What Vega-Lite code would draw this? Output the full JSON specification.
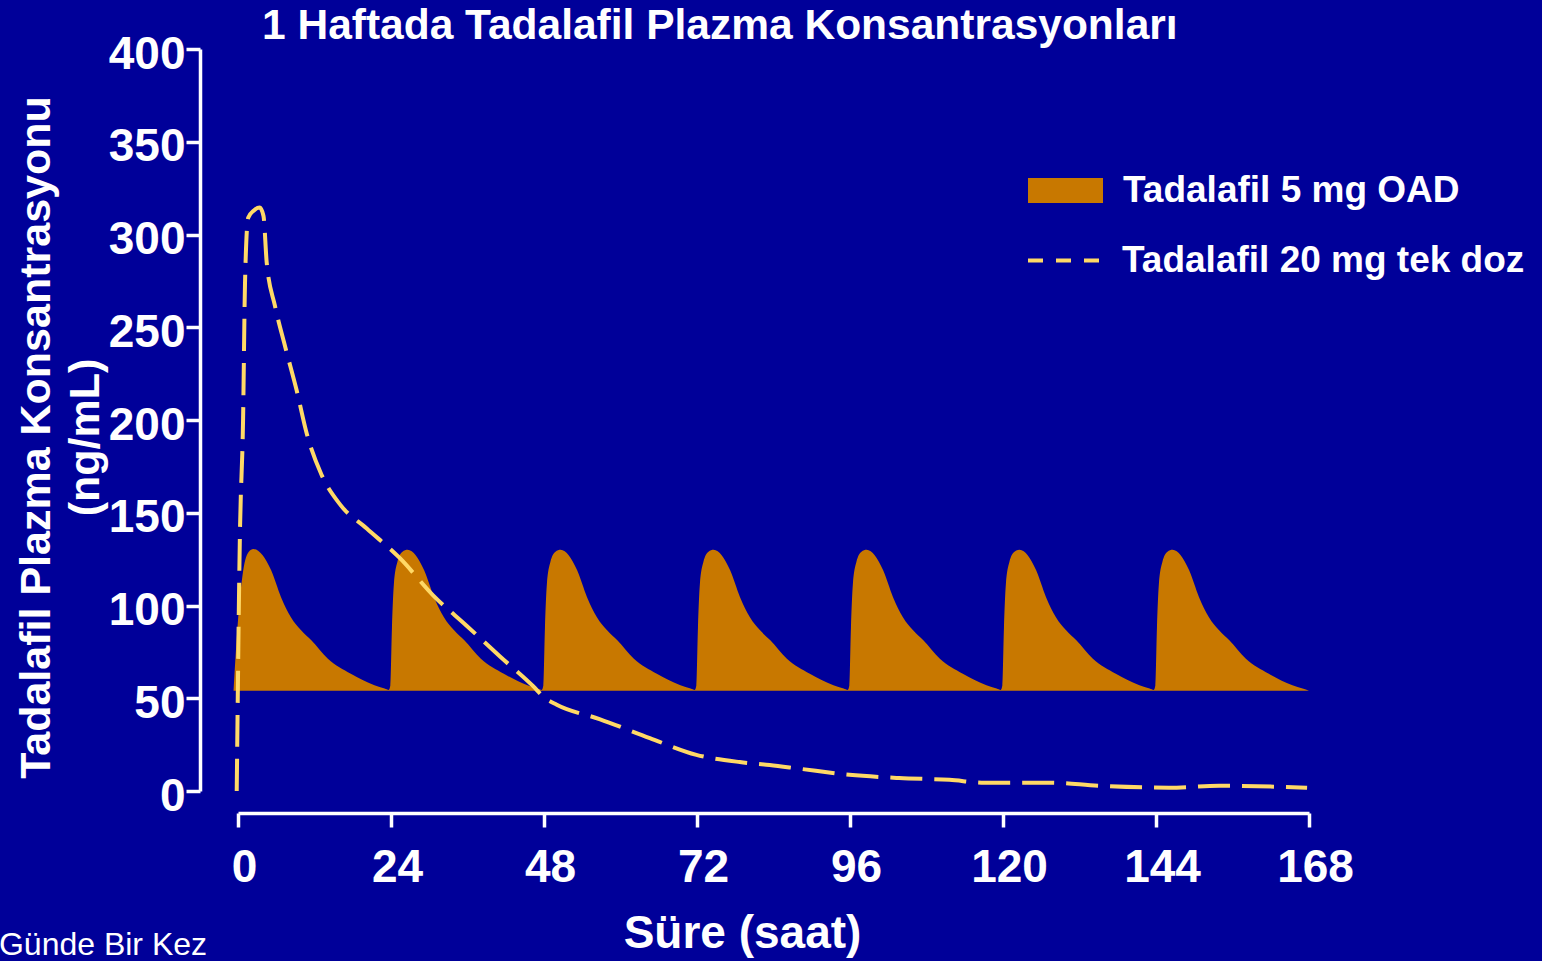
{
  "$schema": "https://vega.github.io/schema/vega-lite/v6.json",
  "width": 1071,
  "height": 742,
  "autosize": {"type": "none"},
  "padding": {"left": 238, "top": 49, "right": 233, "bottom": 170},
  "background": "#000099",
  "config": {"view": {"stroke": null}, "font": "Liberation Sans"},
  "title": {
    "text": "1 Haftada Tadalafil Plazma Konsantrasyonları",
    "frame": "group",
    "anchor": "start",
    "dx": 24,
    "offset": -50,
    "baseline": "alphabetic",
    "fontSize": 42.5,
    "fontWeight": "bold",
    "color": "white",
    "font": "Liberation Sans"
  },
  "datasets": {
    "oad": [
      {"t": -0.7, "v": 54, "series": "Tadalafil 5 mg OAD"},
      {"t": 0, "v": 92, "series": "Tadalafil 5 mg OAD"},
      {"t": 0.8, "v": 118.5, "series": "Tadalafil 5 mg OAD"},
      {"t": 1.7, "v": 129, "series": "Tadalafil 5 mg OAD"},
      {"t": 2.4, "v": 130.5, "series": "Tadalafil 5 mg OAD"},
      {"t": 3.9, "v": 127, "series": "Tadalafil 5 mg OAD"},
      {"t": 5.2, "v": 119, "series": "Tadalafil 5 mg OAD"},
      {"t": 6.75, "v": 104.5, "series": "Tadalafil 5 mg OAD"},
      {"t": 8.3, "v": 93.7, "series": "Tadalafil 5 mg OAD"},
      {"t": 9.9, "v": 86.6, "series": "Tadalafil 5 mg OAD"},
      {"t": 11.5, "v": 81.2, "series": "Tadalafil 5 mg OAD"},
      {"t": 14.1, "v": 71.3, "series": "Tadalafil 5 mg OAD"},
      {"t": 17.7, "v": 63.2, "series": "Tadalafil 5 mg OAD"},
      {"t": 21.4, "v": 57, "series": "Tadalafil 5 mg OAD"},
      {"t": 23, "v": 55.2, "series": "Tadalafil 5 mg OAD"},
      {"t": 23.65, "v": 54.5, "series": "Tadalafil 5 mg OAD"},
      {"t": 23.9, "v": 57, "series": "Tadalafil 5 mg OAD"},
      {"t": 24.15, "v": 88, "series": "Tadalafil 5 mg OAD"},
      {"t": 24.45, "v": 111.5, "series": "Tadalafil 5 mg OAD"},
      {"t": 25, "v": 123.5, "series": "Tadalafil 5 mg OAD"},
      {"t": 25.8, "v": 129, "series": "Tadalafil 5 mg OAD"},
      {"t": 26.6, "v": 130, "series": "Tadalafil 5 mg OAD"},
      {"t": 27.9, "v": 127, "series": "Tadalafil 5 mg OAD"},
      {"t": 29.2, "v": 119, "series": "Tadalafil 5 mg OAD"},
      {"t": 30.75, "v": 104.5, "series": "Tadalafil 5 mg OAD"},
      {"t": 32.3, "v": 93.7, "series": "Tadalafil 5 mg OAD"},
      {"t": 33.9, "v": 86.6, "series": "Tadalafil 5 mg OAD"},
      {"t": 35.5, "v": 81.2, "series": "Tadalafil 5 mg OAD"},
      {"t": 38.1, "v": 71.3, "series": "Tadalafil 5 mg OAD"},
      {"t": 41.7, "v": 63.2, "series": "Tadalafil 5 mg OAD"},
      {"t": 45.4, "v": 57, "series": "Tadalafil 5 mg OAD"},
      {"t": 47, "v": 55.2, "series": "Tadalafil 5 mg OAD"},
      {"t": 47.65, "v": 54.5, "series": "Tadalafil 5 mg OAD"},
      {"t": 47.9, "v": 57, "series": "Tadalafil 5 mg OAD"},
      {"t": 48.15, "v": 88, "series": "Tadalafil 5 mg OAD"},
      {"t": 48.45, "v": 111.5, "series": "Tadalafil 5 mg OAD"},
      {"t": 49, "v": 123.5, "series": "Tadalafil 5 mg OAD"},
      {"t": 49.8, "v": 129, "series": "Tadalafil 5 mg OAD"},
      {"t": 50.6, "v": 130, "series": "Tadalafil 5 mg OAD"},
      {"t": 51.9, "v": 127, "series": "Tadalafil 5 mg OAD"},
      {"t": 53.2, "v": 119, "series": "Tadalafil 5 mg OAD"},
      {"t": 54.75, "v": 104.5, "series": "Tadalafil 5 mg OAD"},
      {"t": 56.3, "v": 93.7, "series": "Tadalafil 5 mg OAD"},
      {"t": 57.9, "v": 86.6, "series": "Tadalafil 5 mg OAD"},
      {"t": 59.5, "v": 81.2, "series": "Tadalafil 5 mg OAD"},
      {"t": 62.1, "v": 71.3, "series": "Tadalafil 5 mg OAD"},
      {"t": 65.7, "v": 63.2, "series": "Tadalafil 5 mg OAD"},
      {"t": 69.4, "v": 57, "series": "Tadalafil 5 mg OAD"},
      {"t": 71, "v": 55.2, "series": "Tadalafil 5 mg OAD"},
      {"t": 71.65, "v": 54.5, "series": "Tadalafil 5 mg OAD"},
      {"t": 71.9, "v": 57, "series": "Tadalafil 5 mg OAD"},
      {"t": 72.15, "v": 88, "series": "Tadalafil 5 mg OAD"},
      {"t": 72.45, "v": 111.5, "series": "Tadalafil 5 mg OAD"},
      {"t": 73, "v": 123.5, "series": "Tadalafil 5 mg OAD"},
      {"t": 73.8, "v": 129, "series": "Tadalafil 5 mg OAD"},
      {"t": 74.6, "v": 130, "series": "Tadalafil 5 mg OAD"},
      {"t": 75.9, "v": 127, "series": "Tadalafil 5 mg OAD"},
      {"t": 77.2, "v": 119, "series": "Tadalafil 5 mg OAD"},
      {"t": 78.75, "v": 104.5, "series": "Tadalafil 5 mg OAD"},
      {"t": 80.3, "v": 93.7, "series": "Tadalafil 5 mg OAD"},
      {"t": 81.9, "v": 86.6, "series": "Tadalafil 5 mg OAD"},
      {"t": 83.5, "v": 81.2, "series": "Tadalafil 5 mg OAD"},
      {"t": 86.1, "v": 71.3, "series": "Tadalafil 5 mg OAD"},
      {"t": 89.7, "v": 63.2, "series": "Tadalafil 5 mg OAD"},
      {"t": 93.4, "v": 57, "series": "Tadalafil 5 mg OAD"},
      {"t": 95, "v": 55.2, "series": "Tadalafil 5 mg OAD"},
      {"t": 95.65, "v": 54.5, "series": "Tadalafil 5 mg OAD"},
      {"t": 95.9, "v": 57, "series": "Tadalafil 5 mg OAD"},
      {"t": 96.15, "v": 88, "series": "Tadalafil 5 mg OAD"},
      {"t": 96.45, "v": 111.5, "series": "Tadalafil 5 mg OAD"},
      {"t": 97, "v": 123.5, "series": "Tadalafil 5 mg OAD"},
      {"t": 97.8, "v": 129, "series": "Tadalafil 5 mg OAD"},
      {"t": 98.6, "v": 130, "series": "Tadalafil 5 mg OAD"},
      {"t": 99.9, "v": 127, "series": "Tadalafil 5 mg OAD"},
      {"t": 101.2, "v": 119, "series": "Tadalafil 5 mg OAD"},
      {"t": 102.75, "v": 104.5, "series": "Tadalafil 5 mg OAD"},
      {"t": 104.3, "v": 93.7, "series": "Tadalafil 5 mg OAD"},
      {"t": 105.9, "v": 86.6, "series": "Tadalafil 5 mg OAD"},
      {"t": 107.5, "v": 81.2, "series": "Tadalafil 5 mg OAD"},
      {"t": 110.1, "v": 71.3, "series": "Tadalafil 5 mg OAD"},
      {"t": 113.7, "v": 63.2, "series": "Tadalafil 5 mg OAD"},
      {"t": 117.4, "v": 57, "series": "Tadalafil 5 mg OAD"},
      {"t": 119, "v": 55.2, "series": "Tadalafil 5 mg OAD"},
      {"t": 119.65, "v": 54.5, "series": "Tadalafil 5 mg OAD"},
      {"t": 119.9, "v": 57, "series": "Tadalafil 5 mg OAD"},
      {"t": 120.15, "v": 88, "series": "Tadalafil 5 mg OAD"},
      {"t": 120.45, "v": 111.5, "series": "Tadalafil 5 mg OAD"},
      {"t": 121, "v": 123.5, "series": "Tadalafil 5 mg OAD"},
      {"t": 121.8, "v": 129, "series": "Tadalafil 5 mg OAD"},
      {"t": 122.6, "v": 130, "series": "Tadalafil 5 mg OAD"},
      {"t": 123.9, "v": 127, "series": "Tadalafil 5 mg OAD"},
      {"t": 125.2, "v": 119, "series": "Tadalafil 5 mg OAD"},
      {"t": 126.75, "v": 104.5, "series": "Tadalafil 5 mg OAD"},
      {"t": 128.3, "v": 93.7, "series": "Tadalafil 5 mg OAD"},
      {"t": 129.9, "v": 86.6, "series": "Tadalafil 5 mg OAD"},
      {"t": 131.5, "v": 81.2, "series": "Tadalafil 5 mg OAD"},
      {"t": 134.1, "v": 71.3, "series": "Tadalafil 5 mg OAD"},
      {"t": 137.7, "v": 63.2, "series": "Tadalafil 5 mg OAD"},
      {"t": 141.4, "v": 57, "series": "Tadalafil 5 mg OAD"},
      {"t": 143, "v": 55.2, "series": "Tadalafil 5 mg OAD"},
      {"t": 143.65, "v": 54.5, "series": "Tadalafil 5 mg OAD"},
      {"t": 143.9, "v": 57, "series": "Tadalafil 5 mg OAD"},
      {"t": 144.15, "v": 88, "series": "Tadalafil 5 mg OAD"},
      {"t": 144.45, "v": 111.5, "series": "Tadalafil 5 mg OAD"},
      {"t": 145, "v": 123.5, "series": "Tadalafil 5 mg OAD"},
      {"t": 145.8, "v": 129, "series": "Tadalafil 5 mg OAD"},
      {"t": 146.6, "v": 130, "series": "Tadalafil 5 mg OAD"},
      {"t": 147.9, "v": 127, "series": "Tadalafil 5 mg OAD"},
      {"t": 149.2, "v": 119, "series": "Tadalafil 5 mg OAD"},
      {"t": 150.75, "v": 104.5, "series": "Tadalafil 5 mg OAD"},
      {"t": 152.3, "v": 93.7, "series": "Tadalafil 5 mg OAD"},
      {"t": 153.9, "v": 86.6, "series": "Tadalafil 5 mg OAD"},
      {"t": 155.5, "v": 81.2, "series": "Tadalafil 5 mg OAD"},
      {"t": 158.1, "v": 71.3, "series": "Tadalafil 5 mg OAD"},
      {"t": 161.7, "v": 63.2, "series": "Tadalafil 5 mg OAD"},
      {"t": 165.4, "v": 57, "series": "Tadalafil 5 mg OAD"},
      {"t": 167, "v": 55.2, "series": "Tadalafil 5 mg OAD"},
      {"t": 168, "v": 54, "series": "Tadalafil 5 mg OAD"}
    ],
    "single": [
      {"t": -0.2, "v": 0, "series": "Tadalafil 20 mg tek doz"},
      {"t": 0.3, "v": 138, "series": "Tadalafil 20 mg tek doz"},
      {"t": 0.8, "v": 201, "series": "Tadalafil 20 mg tek doz"},
      {"t": 1.1, "v": 274, "series": "Tadalafil 20 mg tek doz"},
      {"t": 1.6, "v": 309, "series": "Tadalafil 20 mg tek doz"},
      {"t": 2.5, "v": 313, "series": "Tadalafil 20 mg tek doz"},
      {"t": 3.4, "v": 314.5, "series": "Tadalafil 20 mg tek doz"},
      {"t": 4.0, "v": 310, "series": "Tadalafil 20 mg tek doz"},
      {"t": 4.5, "v": 285, "series": "Tadalafil 20 mg tek doz"},
      {"t": 5.8, "v": 261.5, "series": "Tadalafil 20 mg tek doz"},
      {"t": 7.4, "v": 239.5, "series": "Tadalafil 20 mg tek doz"},
      {"t": 9.2, "v": 216, "series": "Tadalafil 20 mg tek doz"},
      {"t": 10.8, "v": 192.5, "series": "Tadalafil 20 mg tek doz"},
      {"t": 13.1, "v": 170.5, "series": "Tadalafil 20 mg tek doz"},
      {"t": 16, "v": 154.5, "series": "Tadalafil 20 mg tek doz"},
      {"t": 20.2, "v": 141.5, "series": "Tadalafil 20 mg tek doz"},
      {"t": 25.4, "v": 125.5, "series": "Tadalafil 20 mg tek doz"},
      {"t": 30.6, "v": 105.5, "series": "Tadalafil 20 mg tek doz"},
      {"t": 35.9, "v": 89, "series": "Tadalafil 20 mg tek doz"},
      {"t": 41.1, "v": 72.5, "series": "Tadalafil 20 mg tek doz"},
      {"t": 46.3, "v": 56.5, "series": "Tadalafil 20 mg tek doz"},
      {"t": 48, "v": 50.5, "series": "Tadalafil 20 mg tek doz"},
      {"t": 50, "v": 46.5, "series": "Tadalafil 20 mg tek doz"},
      {"t": 56.7, "v": 38.8, "series": "Tadalafil 20 mg tek doz"},
      {"t": 64.6, "v": 28.5, "series": "Tadalafil 20 mg tek doz"},
      {"t": 71.9, "v": 19.5, "series": "Tadalafil 20 mg tek doz"},
      {"t": 78.7, "v": 15.6, "series": "Tadalafil 20 mg tek doz"},
      {"t": 83.4, "v": 14, "series": "Tadalafil 20 mg tek doz"},
      {"t": 88.1, "v": 12, "series": "Tadalafil 20 mg tek doz"},
      {"t": 95.9, "v": 8.7, "series": "Tadalafil 20 mg tek doz"},
      {"t": 103.7, "v": 7, "series": "Tadalafil 20 mg tek doz"},
      {"t": 111.6, "v": 6, "series": "Tadalafil 20 mg tek doz"},
      {"t": 117.1, "v": 4.5, "series": "Tadalafil 20 mg tek doz"},
      {"t": 127.3, "v": 4.5, "series": "Tadalafil 20 mg tek doz"},
      {"t": 135.1, "v": 2.8, "series": "Tadalafil 20 mg tek doz"},
      {"t": 146, "v": 1.8, "series": "Tadalafil 20 mg tek doz"},
      {"t": 153.9, "v": 2.8, "series": "Tadalafil 20 mg tek doz"},
      {"t": 167.7, "v": 1.8, "series": "Tadalafil 20 mg tek doz"}
    ],
    "note": [{"note": "Günde Bir Kez"}]
  },
  "layer": [
    {
      "data": {"name": "oad"},
      "mark": {"type": "area", "interpolate": "monotone"},
      "encoding": {
        "x": {
          "field": "t", "type": "quantitative",
          "scale": {"domain": [0, 168], "nice": false},
          "axis": {
            "values": [0, 24, 48, 72, 96, 120, 144, 168],
            "title": "Süre (saat)",
            "offset": 22,
            "grid": false,
            "domainColor": "white", "domainWidth": 3.5,
            "tickColor": "white", "tickWidth": 3.5, "tickSize": 14,
            "labelColor": "white", "labelFont": "Liberation Sans", "labelFontSize": 46, "labelFontWeight": "bold",
            "labelPadding": 18, "labelOffset": 6, "labelFlush": false, "labelOverlap": false,
            "titleColor": "white", "titleFont": "Liberation Sans", "titleFontSize": 46, "titleFontWeight": "bold",
            "titleX": 504, "titleY": 134, "titleBaseline": "alphabetic", "titleAlign": "center"
          }
        },
        "y": {
          "field": "v", "type": "quantitative", "stack": null,
          "scale": {"domain": [0, 400], "nice": false},
          "axis": {
            "values": [0, 50, 100, 150, 200, 250, 300, 350, 400],
            "title": ["Tadalafil Plazma Konsantrasyonu", "(ng/mL)"],
            "offset": 38,
            "grid": false,
            "domainColor": "white", "domainWidth": 3.5,
            "tickColor": "white", "tickWidth": 3.5, "tickSize": 14,
            "labelColor": "white", "labelFont": "Liberation Sans", "labelFontSize": 46, "labelFontWeight": "bold",
            "labelPadding": 1, "labelOffset": 5, "labelFlush": false, "labelOverlap": false,
            "titleColor": "white", "titleFont": "Liberation Sans", "titleFontSize": 43, "titleFontWeight": "bold",
            "titleLineHeight": 49, "titleAngle": 270,
            "titleX": -151, "titleY": 388, "titleBaseline": "alphabetic", "titleAlign": "center"
          }
        },
        "y2": {"datum": 54},
        "fill": {
          "field": "series", "type": "nominal",
          "scale": {"range": ["#C87800"]},
          "legend": {
            "title": null, "orient": "none", "legendX": 790, "legendY": 104, "padding": 0,
            "symbolType": "M-1,-0.3333H1V0.3333H-1Z", "symbolSize": 5625, "symbolStrokeWidth": 0, "symbolOpacity": 1,
            "labelColor": "white", "labelFont": "Liberation Sans", "labelFontSize": 37, "labelFontWeight": "bold",
            "labelOffset": 20, "labelLimit": 600
          }
        }
      }
    },
    {
      "data": {"name": "single"},
      "mark": {"type": "line", "interpolate": "monotone", "strokeDash": [32, 12], "strokeWidth": 4},
      "encoding": {
        "x": {"field": "t", "type": "quantitative"},
        "y": {"field": "v", "type": "quantitative"},
        "stroke": {
          "field": "series", "type": "nominal",
          "scale": {"range": ["#FFD966"]},
          "legend": {
            "title": null, "orient": "none", "legendX": 788, "legendY": 173.5, "padding": 0,
            "symbolType": "stroke", "symbolSize": 5184, "symbolStrokeWidth": 4, "symbolDash": [15, 13],
            "labelColor": "white", "labelFont": "Liberation Sans", "labelFontSize": 37, "labelFontWeight": "bold",
            "labelOffset": 20, "labelLimit": 600
          }
        }
      }
    },
    {
      "data": {"name": "note"},
      "mark": {"type": "text", "align": "left", "baseline": "alphabetic", "fontSize": 32, "color": "white", "font": "Liberation Sans"},
      "encoding": {
        "x": {"datum": -37.5},
        "y": {"datum": -88.6},
        "text": {"field": "note"}
      }
    }
  ]
}
